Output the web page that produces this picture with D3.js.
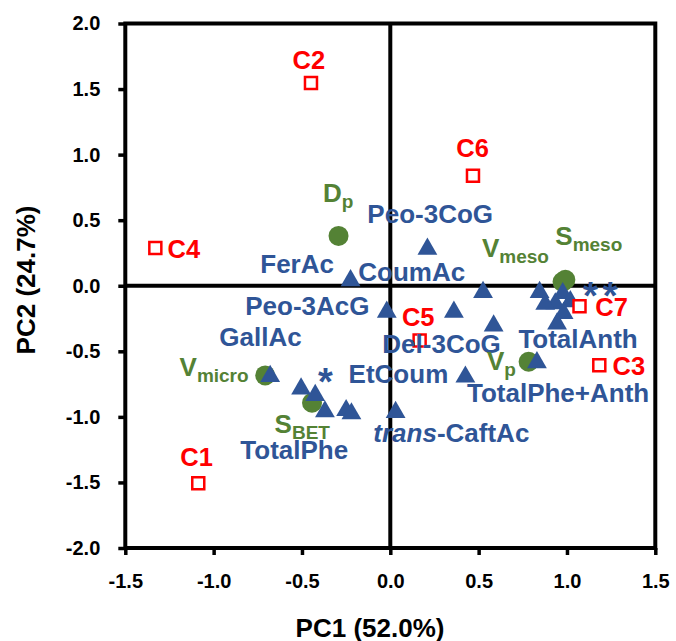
<!DOCTYPE html>
<html>
<head>
<meta charset="utf-8">
<script src="https://cdn.jsdelivr.net/npm/d3@7"></script>
<style>
  body { margin: 0; background: #fff; }
  text { font-family: "Liberation Sans", Arial, sans-serif; font-weight: bold; }
</style>
</head>
<body>
<svg id="chart" width="676" height="641"></svg>
<script>
// cultivar scores (open red squares)
const cultivarNames = ["C1", "C2", "C3", "C4", "C5", "C6", "C7"]
const cultivarPC1 = [-1.087, -0.449, 1.183, -1.330, 0.166, 0.468, 1.071]
const cultivarPC2 = [-1.506, 1.546, -0.606, 0.287, -0.418, 0.839, -0.157]
const cultivarLabelPC1 = [-1.189, -0.553, 1.258, -1.261, 0.066, 0.374, 1.160]
const cultivarLabelPC2 = [-1.376, 1.656, -0.684, 0.211, -0.310, 0.983, -0.233]

// phenolic loadings (blue triangles)
const phenolPC1 = [-0.68, -0.505, -0.425, -0.37, -0.25, -0.22, 0.03, -0.225, -0.02, 0.21,
                   0.525, 0.36, 0.585, 0.425, 0.83, 0.845, 0.976, 0.934, 1.019, 0.981, 0.944, 0.877]
const phenolPC2 = [-0.69, -0.785, -0.835, -0.96, -0.95, -0.975, -0.965, 0.04, -0.20, 0.28,
                   -0.05, -0.20, -0.305, -0.695, -0.585, -0.05, -0.058, -0.136, -0.12, -0.21, -0.29, -0.14]
const phenolLabels = ["Peo-3CoG", "FerAc", "CoumAc", "Peo-3AcG", "GallAc", "Del-3CoG",
                      "EtCoum", "TotalAnth", "TotalPhe+Anth", "trans-CaftAc", "TotalPhe"]
const phenolLabelPC1 = [-0.130, -0.736, -0.181, -0.821, -0.968, -0.045, -0.236, 0.725, 0.434, -0.096, -0.849]
const phenolLabelPC2 = [0.479, 0.101, 0.033, -0.221, -0.456, -0.512, -0.740, -0.471, -0.890, -1.194, -1.323]

// extra loadings shown as asterisks
const starPC1 = [-0.368, 1.132, 1.245]
const starPC2 = [-0.677, -0.017, -0.017]

// texture parameters (green circles)
const textureMain = ["D", "V", "S", "V", "V", "S"]
const textureSub = ["p", "meso", "meso", "p", "micro", "BET"]
const texturePC1 = [-0.293, 0.975, 0.991, 0.783, -0.708, -0.443]
const texturePC2 = [0.380, 0.030, 0.046, -0.580, -0.684, -0.892]
const textureLabelPC1 = [-0.381, 0.519, 0.934, 0.547, -1.193, -0.655]
const textureLabelPC2 = [0.641, 0.223, 0.312, -0.639, -0.690, -1.120]

const xTicks = [-1.5, -1.0, -0.5, 0.0, 0.5, 1.0, 1.5]
const yTicks = [-2.0, -1.5, -1.0, -0.5, 0.0, 0.5, 1.0, 1.5, 2.0]

const RED = "#FF0000", BLUE = "#2F5597", GREEN = "#548235"

let svg = d3.select("#chart")
let x = d3.scaleLinear().domain([-1.5, 1.5]).range([125.3, 655.3])
let y = d3.scaleLinear().domain([-2, 2]).range([548, 23.5])
let fmt = d => d3.format(".1f")(d).replace("\u2212", "-")

// axes
let xAxis = d3.axisBottom(x).tickValues(xTicks).tickFormat(fmt).tickSize(7).tickSizeOuter(0).tickPadding(19)
let yAxis = d3.axisLeft(y).tickValues(yTicks).tickFormat(fmt).tickSize(7).tickSizeOuter(0).tickPadding(18)

let gx = svg.append("g").attr("transform", `translate(0,${y(-2)})`).call(xAxis)
let gy = svg.append("g").attr("transform", `translate(${x(-1.5)},0)`).call(yAxis)
for (let g of [gx, gy]) {
    g.select(".domain").remove()
    g.selectAll(".tick line").attr("stroke", "#000").attr("stroke-width", 3.5)
    g.selectAll(".tick text").attr("fill", "#000").style("font-size", "20px")
        .style("font-family", '"Liberation Sans", Arial, sans-serif').style("font-weight", "bold")
}

// frame and zero lines
svg.append("rect")
    .attr("x", x(-1.5)).attr("y", y(2))
    .attr("width", x(1.5) - x(-1.5)).attr("height", y(-2) - y(2))
    .attr("fill", "none").attr("stroke", "#000").attr("stroke-width", 4)
svg.append("line").attr("x1", x(0)).attr("x2", x(0)).attr("y1", y(2)).attr("y2", y(-2))
    .attr("stroke", "#000").attr("stroke-width", 4)
svg.append("line").attr("x1", x(-1.5)).attr("x2", x(1.5)).attr("y1", y(0)).attr("y2", y(0))
    .attr("stroke", "#000").attr("stroke-width", 4)

// axis titles
svg.append("text").attr("x", 370).attr("y", 637).attr("text-anchor", "middle")
    .style("font-size", "26px").text("PC1 (52.0%)")
svg.append("text").attr("transform", "translate(35,280) rotate(-90)").attr("text-anchor", "middle")
    .style("font-size", "26px").text("PC2 (24.7%)")

// markers
svg.selectAll(".texture").data(texturePC1).enter()
    .append("path").attr("class", "texture")
    .attr("transform", (d, i) => `translate(${x(d)},${y(texturePC2[i])})`)
    .attr("d", d3.symbol(d3.symbolCircle, 314)())
    .attr("fill", GREEN)

svg.selectAll(".phenol").data(phenolPC1).enter()
    .append("path").attr("class", "phenol")
    .attr("transform", (d, i) => `translate(${x(d)},${y(phenolPC2[i])})`)
    .attr("d", d3.symbol(d3.symbolTriangle, 170)())
    .attr("fill", BLUE)

svg.selectAll(".cultivar").data(cultivarPC1).enter()
    .append("path").attr("class", "cultivar")
    .attr("transform", (d, i) => `translate(${x(d)},${y(cultivarPC2[i])})`)
    .attr("d", d3.symbol(d3.symbolSquare, 144)())
    .attr("fill", "#fff").attr("stroke", RED).attr("stroke-width", 2.5)

svg.selectAll(".star").data(starPC1).enter()
    .append("text").attr("class", "star")
    .attr("x", d => x(d)).attr("y", (d, i) => y(starPC2[i]))
    .attr("dy", "0.55em").attr("text-anchor", "middle")
    .style("font-size", "38px").attr("fill", BLUE).text("*")

// labels
svg.selectAll(".clabel").data(cultivarNames).enter()
    .append("text").attr("class", "clabel")
    .attr("x", (d, i) => x(cultivarLabelPC1[i])).attr("y", (d, i) => y(cultivarLabelPC2[i]))
    .style("font-size", "25.5px").attr("fill", RED).text(d => d)

svg.selectAll(".plabel").data(phenolLabels).enter()
    .append("text").attr("class", "plabel")
    .attr("x", (d, i) => x(phenolLabelPC1[i])).attr("y", (d, i) => y(phenolLabelPC2[i]))
    .style("font-size", "26px").attr("fill", BLUE)
    .each(function (d) {
        let t = d3.select(this)
        if (d.startsWith("trans-")) {
            t.append("tspan").style("font-style", "italic").text("trans")
            t.append("tspan").text(d.slice(5))
        } else {
            t.text(d)
        }
    })

let tl = svg.selectAll(".tlabel").data(textureMain).enter()
    .append("text").attr("class", "tlabel")
    .attr("x", (d, i) => x(textureLabelPC1[i])).attr("y", (d, i) => y(textureLabelPC2[i]))
    .attr("fill", GREEN).style("font-size", "26px")
tl.append("tspan").text(d => d)
tl.append("tspan").attr("dy", 6).style("font-size", "19px").text((d, i) => textureSub[i])
</script>
</body>
</html>
